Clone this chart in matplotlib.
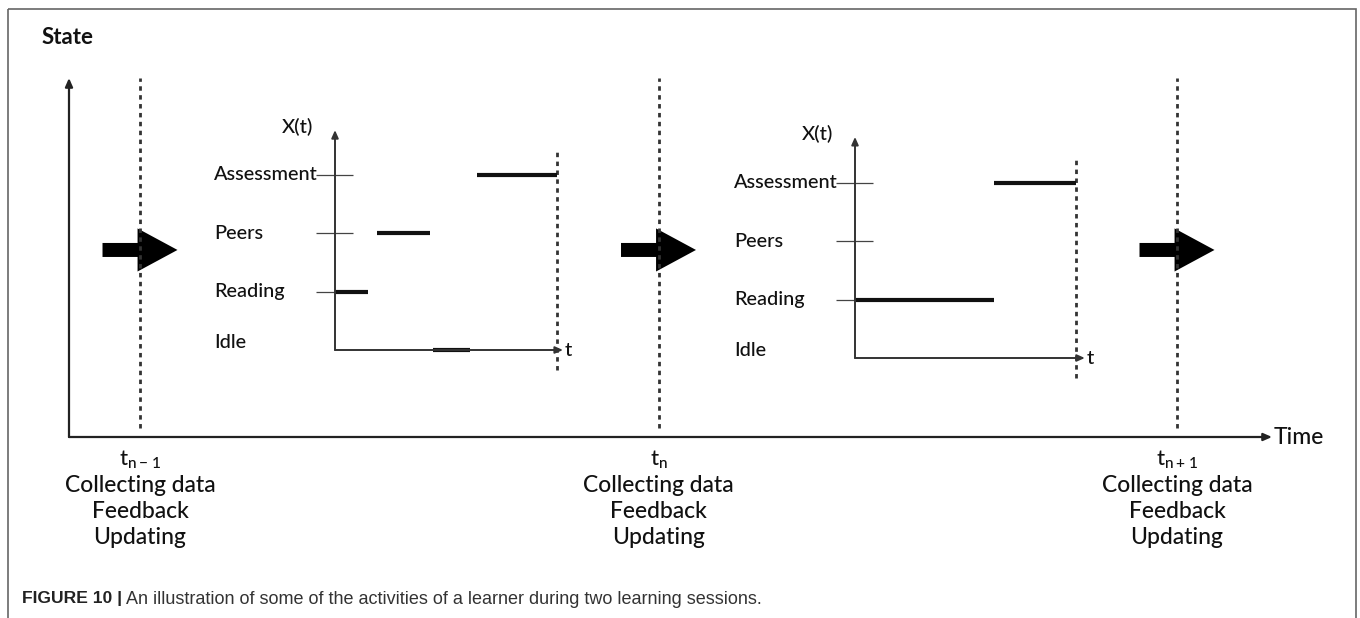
import matplotlib
matplotlib.use("Agg")
import matplotlib.pyplot as plt
from matplotlib.patches import Rectangle

plt.rcParams['font.family'] = ['Lato', 'DejaVu Sans']

# main timeline
checkpoints = [1, 2, 3]
checkpoint_names = [r'$\mathregular{t_{n-1}}$', r'$\mathregular{t_n}$', r'$\mathregular{t_{n+1}}$']
checkpoint_tasks = ['Collecting data', 'Feedback', 'Updating']

# states of X(t), bottom to top
states = ['Idle', 'Reading', 'Peers', 'Assessment']

# session 1 activities (time 0..10)
s1_state = ['Reading', 'Peers', 'Idle', 'Assessment']
s1_start = [0.0, 1.9, 4.4, 6.4]
s1_end = [1.5, 4.3, 6.1, 10.0]

# session 2 activities
s2_state = ['Reading', 'Assessment']
s2_start = [0.0, 6.3]
s2_end = [6.3, 10.0]

W, H = 1360, 618
fig = plt.figure(figsize=(W / 100, H / 100), dpi=100)


def box(left, top, right, bottom):
    return [left / W, 1 - bottom / H, (right - left) / W, (bottom - top) / H]


# frame + caption
bg = fig.add_axes([0, 0, 1, 1])
bg.set_xlim(0, W)
bg.set_ylim(H, 0)
bg.axis('off')
bg.add_patch(Rectangle((8, 9), 1348, 640, fill=False, ec='#666666', lw=1.2))
cap1 = bg.text(22, 599, 'FIGURE 10 |', fontsize=12.6, fontweight='bold', va='center',
               family=['Liberation Sans'], color='#222222')
bg.annotate(' An illustration of some of the activities of a learner during two learning sessions.',
            xy=(1, 0.5), xycoords=cap1, va='center', fontsize=13,
            family=['Liberation Sans'], color='#333333')

# main axes: x in checkpoint units, y in 0..1
ax = fig.add_axes(box(69, 78, 1272, 437))
x0 = 1 - 71 / 518.5
x1 = 1 + 1132 / 518.5
ax.set_xlim(x0, x1)
ax.set_ylim(0, 1)
ax.axis('off')
arr = dict(arrowstyle='-|>,head_length=0.5,head_width=0.22', color='#222222', lw=1.6, shrinkA=0, shrinkB=0)
ax.annotate('', xy=(x1, 0), xytext=(x0, 0), arrowprops=arr, annotation_clip=False)
ax.annotate('', xy=(x0, 1), xytext=(x0, 0), arrowprops=arr, annotation_clip=False)
ax.annotate('Time', xy=(x1, 0), xytext=(2, 0), textcoords='offset pixels', ha='left', va='center',
            fontsize=16.5, fontweight='medium', color='#111111', annotation_clip=False)
ax.annotate('State', xy=(x0, 1), xytext=(-27, 40), textcoords='offset pixels', ha='left', va='center',
            fontsize=16, fontweight='bold', color='#111111', annotation_clip=False)
ax.vlines(checkpoints, 0.025, 1.0, colors='#333333', lw=2, linestyles=(0, (1.6, 1.6)))

for c, name in zip(checkpoints, checkpoint_names):
    ax.annotate(name, xy=(c, 0), xytext=(0, -23), textcoords='offset pixels', ha='center', va='center',
                fontsize=16, fontweight='medium', color='#111111', annotation_clip=False)
    for k, task in enumerate(checkpoint_tasks):
        ax.annotate(task, xy=(c, 0), xytext=(0, -49 - 25.5 * k), textcoords='offset pixels',
                    ha='center', va='center', fontsize=16.5, fontweight='medium', color='#111111',
                    annotation_clip=False)
    ax.arrow(c - 0.0723, 0.521, 0.1446, 0, width=0.039, head_width=0.12, head_length=0.077,
             length_includes_head=True, color='black', lw=0)


def session(rect, st, t0, t1, xtip, ytip):
    a = fig.add_axes(rect)
    a.set_xlim(0, 10)
    a.set_ylim(0, 3)
    a.axis('off')
    ia = dict(arrowstyle='-|>,head_length=0.45,head_width=0.2', color='#333333', lw=1.4,
              shrinkA=0, shrinkB=0)
    a.annotate('', xy=(xtip, 0), xytext=(0, 0), arrowprops=ia, annotation_clip=False)
    a.annotate('', xy=(0, ytip), xytext=(0, 0), arrowprops=ia, annotation_clip=False)
    a.annotate('t', xy=(xtip, 0), xytext=(2, 0), textcoords='offset pixels', ha='left', va='center',
               fontsize=14.5, fontweight='medium', color='#111111', annotation_clip=False)
    a.annotate('X(t)', xy=(0, ytip), xytext=(-22, 3), textcoords='offset pixels', ha='right',
               va='center', fontsize=14.5, fontweight='medium', color='#111111', annotation_clip=False)
    a.vlines([10], -0.34, 3.43, colors='#333333', lw=2, linestyles=(0, (1.6, 1.6)), clip_on=False)
    for i, s in enumerate(states):
        dy = 8 if i == 0 else 0
        a.annotate(s, xy=(0, i), xytext=(-121, dy), textcoords='offset pixels', ha='left', va='center',
                   fontsize=14.3, fontweight='medium', color='#111111', annotation_clip=False)
        if i > 0:
            a.hlines(i, -0.85, 0.8, colors='#444444', lw=0.9, clip_on=False)
    lv = [states.index(s) for s in st]
    a.hlines(lv, t0, t1, colors='#111111', lw=3, clip_on=False)


session(box(335, 175, 557, 350), s1_state, s1_start, s1_end, 10.27, 3.77)
session(box(855, 183, 1076, 358), s2_state, s2_start, s2_end, 10.4, 3.79)

fig.savefig('out.png', dpi=100)
